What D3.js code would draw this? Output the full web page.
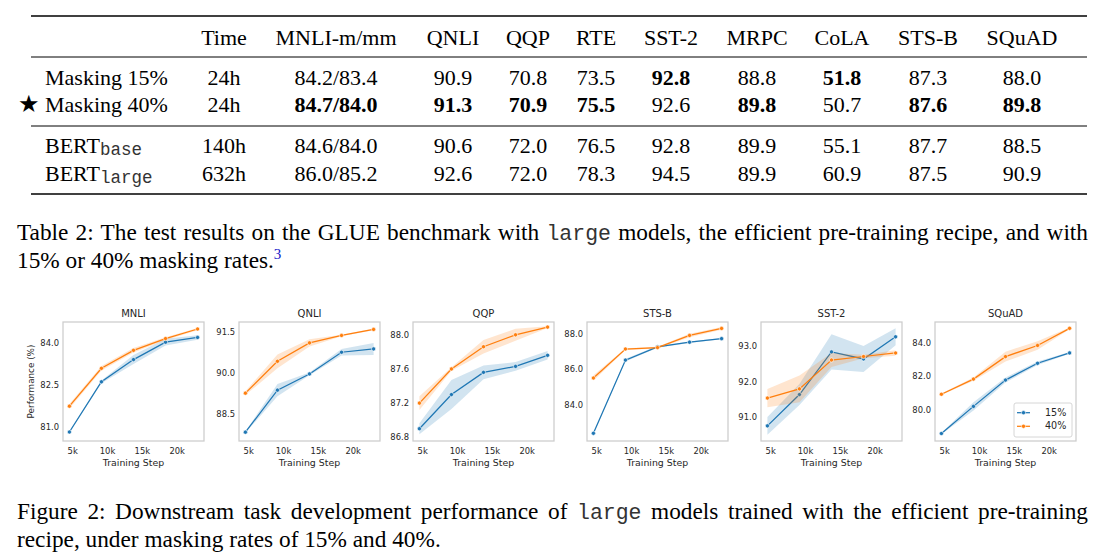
<!DOCTYPE html>
<html><head><meta charset="utf-8">
<script src="https://cdn.jsdelivr.net/npm/d3@7"></script>
<style>html,body{margin:0;padding:0;background:#fff;}svg{display:block;}</style>
</head><body>
<script>
// ---------------- DATA ----------------
const tableHeaders = ["Time","MNLI-m/mm","QNLI","QQP","RTE","SST-2","MRPC","CoLA","STS-B","SQuAD"];
const rowLabels = ["Masking 15%","Masking 40%","BERT","BERT"];
const rowSubs = ["","","base","large"];
const rowMask15 = ["24h","84.2/83.4","90.9","70.8","73.5","92.8","88.8","51.8","87.3","88.0"];
const rowMask40 = ["24h","84.7/84.0","91.3","70.9","75.5","92.6","89.8","50.7","87.6","89.8"];
const rowBertBase = ["140h","84.6/84.0","90.6","72.0","76.5","92.8","89.9","55.1","87.7","88.5"];
const rowBertLarge = ["632h","86.0/85.2","92.6","72.0","78.3","94.5","89.9","60.9","87.5","90.9"];
const boldMask15 = [0,0,0,0,0,1,0,1,0,0];
const boldMask40 = [0,1,1,1,1,0,1,0,1,1];

const steps = [4600, 9200, 13800, 18400, 23000];
const stepTicks = [5000, 10000, 15000, 20000];
const stepTickLabels = ["5k","10k","15k","20k"];
const seriesNames = ["15%","40%"];

const taskNames = ["MNLI","QNLI","QQP","STS-B","SST-2","SQuAD"];
const mnli15 = [80.82, 82.61, 83.40, 84.02, 84.19];
const mnli15Err = [0.03, 0.05, 0.16, 0.12, 0.08];
const mnli40 = [81.74, 83.09, 83.73, 84.15, 84.49];
const mnli40Err = [0.08, 0.08, 0.08, 0.05, 0.04];
const mnliTicks = [81.0, 82.5, 84.0];

const qnli15 = [87.84, 89.37, 89.96, 90.75, 90.87];
const qnli15Err = [0.03, 0.22, 0.05, 0.12, 0.22];
const qnli40 = [89.26, 90.42, 91.09, 91.36, 91.58];
const qnli40Err = [0.07, 0.25, 0.13, 0.03, 0.03];
const qnliTicks = [88.5, 90.0, 91.5];

const qqp15 = [86.90, 87.30, 87.56, 87.63, 87.76];
const qqp15Err = [0.065, 0.17, 0.08, 0.05, 0.05];
const qqp40 = [87.20, 87.60, 87.86, 88.00, 88.09];
const qqp40Err = [0.08, 0.02, 0.08, 0.07, 0.01];
const qqpTicks = [86.8, 87.2, 87.6, 88.0];

const stsb15 = [82.42, 86.51, 87.25, 87.51, 87.71];
const stsb15Err = [0.02, 0.08, 0.05, 0.04, 0.04];
const stsb40 = [85.51, 87.13, 87.21, 87.89, 88.28];
const stsb40Err = [0.15, 0.05, 0.05, 0.10, 0.08];
const stsbTicks = [84.0, 86.0, 88.0];

const sst15 = [90.74, 91.63, 92.84, 92.64, 93.27];
const sst15Err = [0.25, 0.30, 0.50, 0.37, 0.24];
const sst40 = [91.53, 91.79, 92.61, 92.71, 92.81];
const sst40Err = [0.26, 0.38, 0.20, 0.05, 0.08];
const sstTicks = [91.0, 92.0, 93.0];

const squad15 = [78.55, 80.18, 81.76, 82.77, 83.39];
const squad15Err = [0.05, 0.25, 0.15, 0.10, 0.05];
const squad40 = [80.91, 81.82, 83.17, 83.84, 84.87];
const squad40Err = [0.05, 0.10, 0.30, 0.25, 0.05];
const squadTicks = [80.0, 82.0, 84.0];

const yDomains = [[80.50, 84.74],[87.52, 91.85],[86.756, 88.15],[81.99, 88.64],[90.31, 93.69],[78.10, 85.25]];

// ---------------- LAYOUT ----------------
const W = 1110, H = 555;
const svg = d3.select("body").append("svg").attr("width", W).attr("height", H);
svg.append("rect").attr("width", W).attr("height", H).attr("fill", "#fff");

const serif = "'Liberation Serif','Times New Roman',Times,serif";
const mono = "'Liberation Mono','Courier New',monospace";
const sans = "'DejaVu Sans',sans-serif";

// ---------------- TABLE ----------------
const colX = [224, 336, 453, 528, 596, 671, 757, 842, 928, 1022];
const tFont = 22;
const tbl = svg.append("g");
tbl.append("line").attr("x1",31).attr("x2",1087).attr("y1",16).attr("y2",16).attr("stroke","#000").attr("stroke-width",1.6);
tbl.append("line").attr("x1",31).attr("x2",1087).attr("y1",57).attr("y2",57).attr("stroke","#000").attr("stroke-width",1);
tbl.append("line").attr("x1",31).attr("x2",1087).attr("y1",126).attr("y2",126).attr("stroke","#000").attr("stroke-width",1);
tbl.append("line").attr("x1",31).attr("x2",1087).attr("y1",194).attr("y2",194).attr("stroke","#000").attr("stroke-width",1.6);

tbl.selectAll("text.hdr").data(tableHeaders).join("text").attr("class","hdr")
  .attr("x",(d,i)=>colX[i]).attr("y",44.5).attr("text-anchor","middle")
  .attr("font-family",serif).attr("font-size",tFont).attr("fill","#000").text(d=>d);

const rows = [rowMask15,rowMask40,rowBertBase,rowBertLarge];
const bolds = [boldMask15,boldMask40,null,null];
const rowY = [84.5,112,153,180.5];
rows.forEach((r,ri)=>{
  const t = tbl.append("text").attr("x",45).attr("y",rowY[ri]).attr("font-family",serif).attr("font-size",tFont).attr("fill","#000");
  t.append("tspan").text(rowLabels[ri]);
  if (rowSubs[ri]) t.append("tspan").attr("font-family",mono).attr("font-size",17.5).attr("dy",2).attr("fill","#333").text(rowSubs[ri]);
  tbl.selectAll(null).data(r).join("text")
    .attr("x",(d,i)=>colX[i]).attr("y",rowY[ri]).attr("text-anchor","middle")
    .attr("font-family",serif).attr("font-size",tFont)
    .attr("font-weight",(d,i)=>bolds[ri] && bolds[ri][i] ? "bold":"normal")
    .attr("fill","#000").text(d=>d);
});
tbl.append("text").attr("x",18).attr("y",112).attr("font-family",sans).attr("font-size",24).attr("fill","#000").text("\u2605");

// ---------------- CAPTIONS ----------------
function justifiedLine(y, parts, x0, x1, justify){
  const t = svg.append("text").attr("x",x0).attr("y",y).attr("font-family",serif).attr("font-size",23.3).attr("fill","#000");
  parts.forEach(p=>{
    const s = t.append("tspan").text(p.t);
    if (p.mono) s.attr("font-family",mono).attr("font-size",21.5).attr("fill","#333");
    if (p.sup) s.attr("font-size",15).attr("dy",-9).attr("fill","#1515c8");
  });
  if (justify){
    const w = t.node().getComputedTextLength();
    const full = parts.map(p=>p.t).join("");
    const n = (full.match(/ /g)||[]).length;
    t.attr("word-spacing", (x1-x0-w)/n);
  }
  return t;
}
justifiedLine(240, [{t:"Table 2: The test results on the GLUE benchmark with "},{t:"large",mono:true},{t:" models, the efficient pre-training recipe, and with"}], 17, 1088, true);
justifiedLine(268, [{t:"15% or 40% masking rates."},{t:"3",sup:true}], 17, 1088, false);
justifiedLine(518.5, [{t:"Figure 2: Downstream task development performance of "},{t:"large",mono:true},{t:" models trained with the efficient pre-training"}], 17, 1088, true);
justifiedLine(546.5, [{t:"recipe, under masking rates of 15% and 40%."}], 17, 1088, false);

// ---------------- FIGURE PANELS ----------------
const panelLefts = [63, 239, 413, 587, 761, 935];
const pW = 141, pTop = 322, pBot = 441;
const blue = "#1f77b4", orange = "#ff7f0e", txt = "#262626";
const panels = [
  {s15:mnli15,e15:mnli15Err,s40:mnli40,e40:mnli40Err,ticks:mnliTicks},
  {s15:qnli15,e15:qnli15Err,s40:qnli40,e40:qnli40Err,ticks:qnliTicks},
  {s15:qqp15,e15:qqp15Err,s40:qqp40,e40:qqp40Err,ticks:qqpTicks},
  {s15:stsb15,e15:stsb15Err,s40:stsb40,e40:stsb40Err,ticks:stsbTicks},
  {s15:sst15,e15:sst15Err,s40:sst40,e40:sst40Err,ticks:sstTicks},
  {s15:squad15,e15:squad15Err,s40:squad40,e40:squad40Err,ticks:squadTicks}
];

panels.forEach((p,pi)=>{
  const L = panelLefts[pi];
  const x = d3.scaleLinear().domain([3680, 23920]).range([L, L+pW]);
  const y = d3.scaleLinear().domain(yDomains[pi]).range([pBot, pTop]);
  const g = svg.append("g");
  g.append("text").attr("x",L+pW/2).attr("y",pTop-5).attr("text-anchor","middle")
    .attr("font-family",sans).attr("font-size",10).attr("fill",txt).text(taskNames[pi]);

  const xa = g.append("g").attr("transform",`translate(0,${pBot})`)
    .call(d3.axisBottom(x).tickValues(stepTicks).tickFormat((d,i)=>stepTickLabels[i]).tickSize(0).tickPadding(7));
  xa.select(".domain").remove();
  xa.selectAll("text").attr("font-family",sans).attr("font-size",8.4).attr("fill",txt);
  const ya = g.append("g").attr("transform",`translate(${L},0)`)
    .call(d3.axisLeft(y).tickValues(p.ticks).tickFormat(d3.format(".1f")).tickSize(0).tickPadding(4));
  ya.select(".domain").remove();
  ya.selectAll("text").attr("font-family",sans).attr("font-size",8.4).attr("fill",txt);

  g.append("text").attr("x",L+pW/2).attr("y",465.5).attr("text-anchor","middle")
    .attr("font-family",sans).attr("font-size",9.4).attr("fill",txt).text("Training Step");

  const clipId = "clip"+pi;
  g.append("clipPath").attr("id",clipId).append("rect").attr("x",L).attr("y",pTop).attr("width",pW).attr("height",pBot-pTop);
  const plot = g.append("g").attr("clip-path",`url(#${clipId})`);

  [[p.s15,p.e15,blue],[p.s40,p.e40,orange]].forEach(([vals,errs,col])=>{
    const pts = steps.map((s,i)=>({s, v:vals[i], e:errs[i]}));
    plot.append("path").datum(pts)
      .attr("d", d3.area().x(d=>x(d.s)).y0(d=>y(d.v-d.e)).y1(d=>y(d.v+d.e)))
      .attr("fill",col).attr("fill-opacity",0.2).attr("stroke","none");
    plot.append("path").datum(pts)
      .attr("d", d3.line().x(d=>x(d.s)).y(d=>y(d.v)))
      .attr("fill","none").attr("stroke",col).attr("stroke-width",1.25);
    plot.selectAll(null).data(pts).join("circle")
      .attr("cx",d=>x(d.s)).attr("cy",d=>y(d.v)).attr("r",2.1)
      .attr("fill",col).attr("stroke","#fff").attr("stroke-width",0.6);
  });

  g.append("rect").attr("x",L).attr("y",pTop).attr("width",pW).attr("height",pBot-pTop)
    .attr("fill","none").attr("stroke","#cccccc").attr("stroke-width",1.25);
  if (pi===0){
    g.append("text").attr("transform",`translate(31.5,${(pTop+pBot)/2}) rotate(-90)`)
      .attr("text-anchor","middle").attr("dominant-baseline","middle")
      .attr("font-family",sans).attr("font-size",8.8).attr("fill",txt).text("Performance (%)");
  }
  if (pi===5){
    const lg = g.append("g");
    lg.append("rect").attr("x",1014).attr("y",403).attr("width",58).attr("height",34).attr("rx",2)
      .attr("fill","#fff").attr("fill-opacity",0.8).attr("stroke","#cccccc").attr("stroke-width",0.8);
    [blue,orange].forEach((c,i)=>{
      const yy = 412.7 + i*13.6;
      lg.append("line").attr("x1",1017).attr("x2",1030).attr("y1",yy).attr("y2",yy).attr("stroke",c).attr("stroke-width",1.25);
      lg.append("circle").attr("cx",1023.5).attr("cy",yy).attr("r",2.1).attr("fill",c).attr("stroke","#fff").attr("stroke-width",0.6);
      lg.append("text").attr("x",1045).attr("y",yy).attr("dominant-baseline","middle")
        .attr("font-family",sans).attr("font-size",9.6).attr("fill",txt).text(seriesNames[i]);
    });
  }
});
</script>
</body></html>
